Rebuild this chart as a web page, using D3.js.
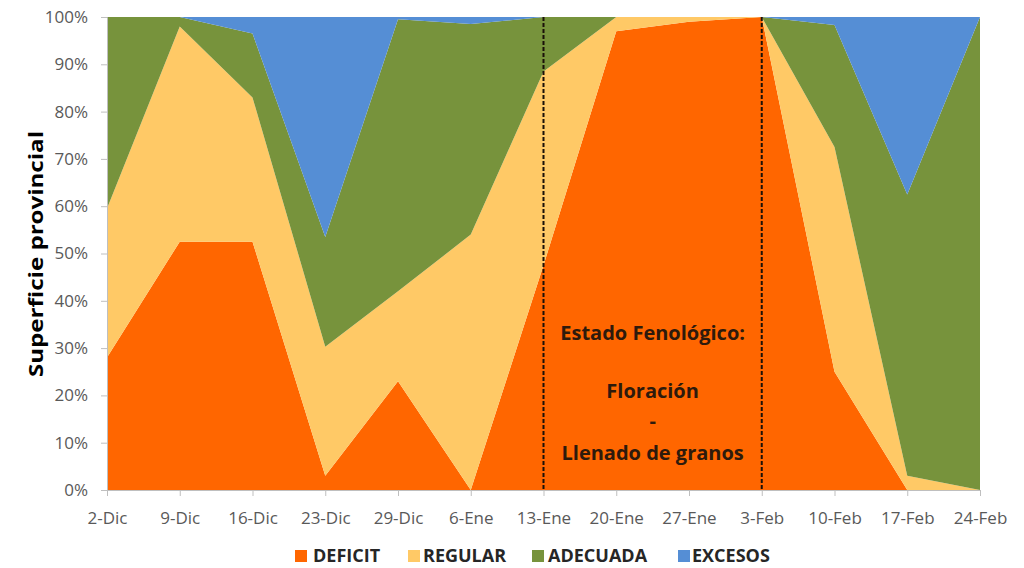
<!DOCTYPE html>
<html><head><meta charset="utf-8">
<script src="https://cdn.jsdelivr.net/npm/d3@7"></script>
<style>
html,body{margin:0;padding:0;background:#fff;}
svg{display:block;font-family:"Open Sans",sans-serif;}
</style></head>
<body><svg id="chart" width="1024" height="568"></svg>
<script>
const categories = ["2-Dic","9-Dic","16-Dic","23-Dic","29-Dic","6-Ene","13-Ene","20-Ene","27-Ene","3-Feb","10-Feb","17-Feb","24-Feb"];
const deficit  = [28, 52.5, 52.5, 3, 23, 0, 47.5, 97, 99, 100, 25, 0, 0];
const regular  = [31.5, 45.5, 30.5, 27.3, 19, 54, 41, 3, 1, 0, 47.5, 3, 0];
const adecuada = [40.5, 2, 13.5, 23.2, 57.5, 44.5, 11.5, 0, 0, 0, 25.8, 59.5, 100];
const excesos  = [0, 0, 3.5, 46.5, 0.5, 1.5, 0, 0, 0, 0, 1.7, 37.5, 0];
const seriesNames = ["DEFICIT","REGULAR","ADECUADA","EXCESOS"];
const seriesColors = ["#FF6600","#FFC966","#77933C","#558ED5"];
const yTicks = [0,10,20,30,40,50,60,70,80,90,100];
const phaseMarks = ["13-Ene","3-Feb"];
const phaseLabel = ["Estado Fenológico:","Floración","-","Llenado de granos"];
const yTitle = "Superficie provincial";

const svg = d3.select("#chart");
const m = {l:107, r:980, t:17, b:490};
const x = d3.scalePoint().domain(categories).range([m.l, m.r]);
const y = d3.scaleLinear().domain([0,100]).range([m.b, m.t]);

const rows = categories.map((c,i)=>({cat:c, DEFICIT:deficit[i], REGULAR:regular[i], ADECUADA:adecuada[i], EXCESOS:excesos[i]}));
const stack = d3.stack().keys(seriesNames).offset(d3.stackOffsetExpand);
const layers = stack(rows);
const area = d3.area().x(d=>x(d.data.cat)).y0(d=>y(d[0]*100)).y1(d=>y(d[1]*100));

svg.append("g").selectAll("path").data(layers).join("path")
  .attr("d", area).attr("fill",(d,i)=>seriesColors[i]);

// phase dashed lines
svg.append("g").selectAll("line").data(phaseMarks).join("line")
  .attr("x1",d=>x(d)).attr("x2",d=>x(d)).attr("y1",y(100)).attr("y2",y(0))
  .attr("stroke","#1a1008").attr("stroke-width",2).attr("stroke-dasharray","4,2");

// phase label
const midX = (x(phaseMarks[0])+x(phaseMarks[1]))/2;
const lineYs = [340, 398, 428, 460];
svg.append("g").selectAll("text").data(phaseLabel).join("text")
  .attr("x",midX).attr("y",(d,i)=>lineYs[i]).attr("text-anchor","middle")
  .attr("font-size",20).attr("font-weight","bold").attr("fill","#2e1a0c").text(d=>d);

// axes
const yAxis = svg.append("g").attr("transform",`translate(${m.l},0)`)
  .call(d3.axisLeft(y).tickValues(yTicks).tickFormat(d=>d+"%").tickSize(6).tickPadding(13));
const xAxis = svg.append("g").attr("transform",`translate(0,${m.b})`)
  .call(d3.axisBottom(x).tickSize(6).tickPadding(16));
[yAxis,xAxis].forEach(a=>{
  a.select(".domain").attr("stroke","#bfbfbf");
  a.selectAll(".tick line").attr("stroke","#bfbfbf");
  a.selectAll("text").attr("font-family","Open Sans").attr("font-size",17).attr("fill","#595959");
});
xAxis.selectAll("text").attr("dy","0.71em");

// y title
svg.append("text").attr("transform","translate(43,254) rotate(-90)")
  .attr("text-anchor","middle").attr("font-size",20).attr("font-weight","bold").attr("fill","#000")
  .attr("textLength",246).attr("lengthAdjust","spacingAndGlyphs").text(yTitle);

// legend
const legSq = [295, 408, 532, 678];
const legTx = [313, 423, 548, 692];
const lg = svg.append("g").selectAll("g").data(seriesNames).join("g");
lg.append("rect").attr("x",(d,i)=>legSq[i]).attr("y",550).attr("width",12).attr("height",12).attr("fill",(d,i)=>seriesColors[i]);
lg.append("text").attr("x",(d,i)=>legTx[i]).attr("y",562).attr("font-size",18).attr("font-weight","bold").attr("fill","#262626").text(d=>d);
</script></body></html>
